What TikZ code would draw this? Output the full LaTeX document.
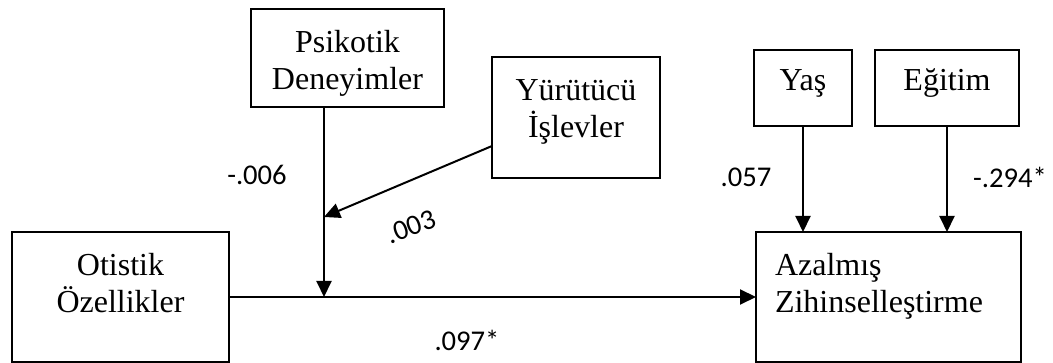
\documentclass[tikz,border=0pt]{standalone}
\usepackage{fontspec}
\setmainfont{Liberation Serif}
\newfontfamily\labfont{Carlito}
\usetikzlibrary{arrows.meta}
\newcommand\boxc[3]{\parbox[t][#2][t]{#1}{\centering\rule{0pt}{44pt}#3}}
\tikzset{
  box/.style={draw, line width=2.4pt, inner sep=0pt, outer sep=0pt, font=\fontsize{32}{37}\selectfont},
  arr/.style={line width=2pt, -{Triangle[width=15pt,length=16pt]}},
  lab/.style={font=\labfont\fontsize{28.6}{34}\selectfont, inner sep=0pt},
}
\begin{document}
\begin{tikzpicture}[x=1pt,y=1pt]
\useasboundingbox (0,0) rectangle (1053,-363);
% boxes
\node[box] (psi) at (347.5,-58) {\boxc{193pt}{98pt}{Psikotik\\Deneyimler}};
\node[box] (yur) at (576,-117.5) {\boxc{168pt}{121pt}{Yürütücü\\İşlevler}};
\node[box] (oti) at (120.5,-297) {\boxc{217pt}{130pt}{Otistik\\Özellikler}};
\node[box] (azl) at (888.5,-297) {\parbox[t][130pt][t]{265pt}{\raggedright\rule{0pt}{44pt}\hspace*{19pt}Azalmış\\\hspace*{19pt}Zihinselleştirme}};
\node[box] (yas) at (803,-88) {\parbox[t][76pt][t]{98pt}{\centering\rule{0pt}{41pt}Yaş}};
\node[box] (egi) at (947,-88) {\parbox[t][76pt][t]{144pt}{\centering\rule{0pt}{41pt}Eğitim}};
% connector points
\coordinate (mA) at (324,-297);
\coordinate (mB) at (324,-217);
\coordinate (yS) at (492,-146);
% connectors
\draw[arr] (oti) -- (azl);
\draw[arr] (psi.south -| mA) -- (mA);
\draw[arr] (yS) -- (mB);
\draw[arr] (yas) -- (yas |- azl.north);
\draw[arr] (egi) -- (egi |- azl.north);
% labels
\node[lab] (l1) at (257,-175) {-.006};
\node[lab, rotate=20] (l2) at (411,-227) {.003};
\node[lab] (l3) at (746,-177) {.057};
\node[lab] (l4) at (1010,-177) {-.294*};
\node[lab] (l5) at (467,-340) {.097*};
\end{tikzpicture}
\end{document}
